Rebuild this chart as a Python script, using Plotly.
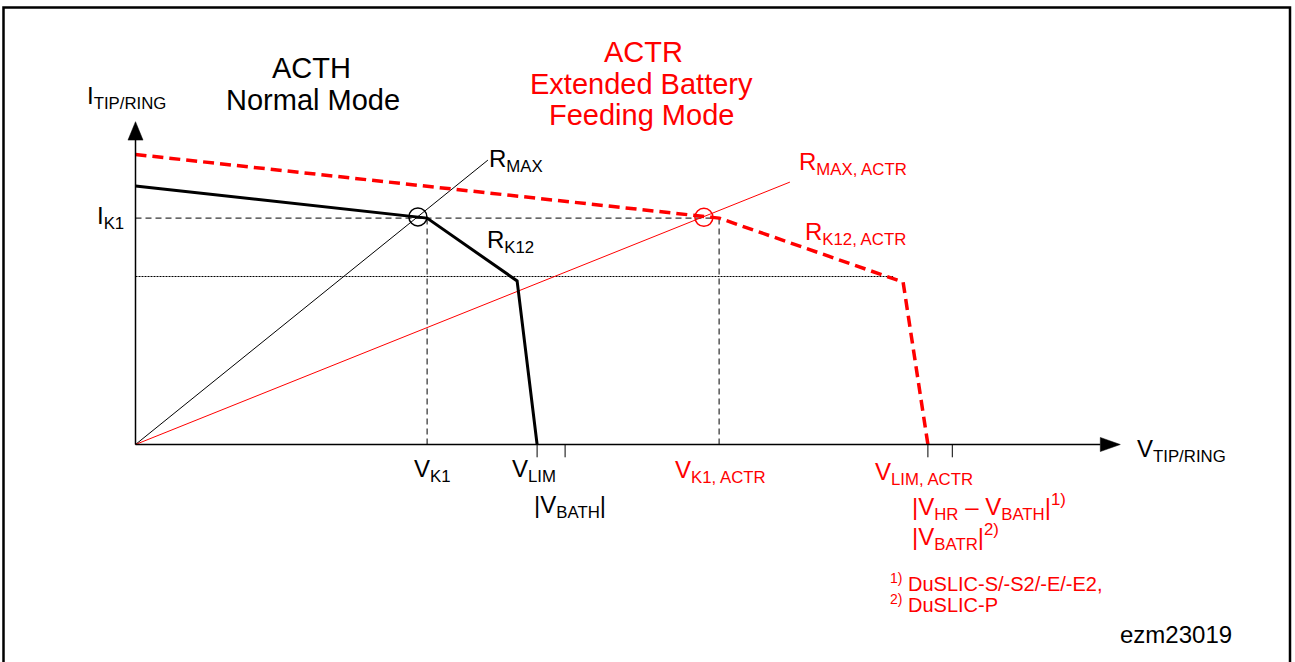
import plotly.graph_objects as go

# ---- schematic values (V in volts, I in mA) ----
I_K1 = 28.3            # knee current
I_K2 = 21.0            # dotted reference current
V_K1 = 36.45
V_LIM = 50.2
V_BATH = 53.7
V_K1_ACTR = 72.95
V_LIM_ACTR = 99.05
V_HR_BATH = 102.1
V_AXIS_END = 120.6
I_AXIS_END = 38.05

acth_v = [0, V_K1, 47.7, V_LIM]          # ACTH normal mode characteristic
acth_i = [32.3, I_K1, 20.45, 0]
actr_v = [0, V_K1_ACTR, 95.95, V_LIM_ACTR]  # ACTR extended battery characteristic
actr_i = [36.25, I_K1, 20.3, 0]
rmax_v = [0, 44.05]
rmax_i = [0, 35.55]
rmax_actr_v = [0, 81.8]
rmax_actr_i = [0, 32.8]
knee_v = [35.3]
knee_i = [28.45]
knee_actr_v = [71.05]
knee_actr_i = [28.4]
dotted_end_v = 94.7
tick_v = [V_LIM, V_BATH, V_LIM_ACTR, V_HR_BATH]

RED = "#ff0000"
BLACK = "#000000"
FONT = "Liberation Sans, Arial, sans-serif"

fig = go.Figure()

def line(xs, ys, color, width, dash="solid"):
    fig.add_trace(go.Scatter(x=xs, y=ys, mode="lines", hoverinfo="skip",
                             line=dict(color=color, width=width, dash=dash)))

# guide lines
line([0, V_K1_ACTR], [I_K1, I_K1], BLACK, 1, "6px,4px")
line([V_K1, V_K1], [0, I_K1], BLACK, 1, "6px,4px")
line([V_K1_ACTR, V_K1_ACTR], [0, I_K1], BLACK, 1, "6px,4px")
line([0, dotted_end_v], [I_K2, I_K2], BLACK, 1, "2px,1px")
# resistance lines
line(rmax_v, rmax_i, BLACK, 1)
line(rmax_actr_v, rmax_actr_i, RED, 1)
# characteristics
line(acth_v, acth_i, BLACK, 3)
line(actr_v, actr_i, RED, 3.5, "11px,6px")
# axes
line([0, V_AXIS_END], [0, 0], BLACK, 1.5)
line([0, 0], [0, I_AXIS_END], BLACK, 1.5)
tx, ty = [], []
for v in tick_v:
    tx += [v, v, None]
    ty += [0, -1.6, None]
line(tx, ty, BLACK, 1)
# arrow heads
fig.add_trace(go.Scatter(x=[V_AXIS_END, V_AXIS_END + 2.5, V_AXIS_END, V_AXIS_END],
                         y=[0.88, 0, -0.88, 0.88], mode="lines", fill="toself",
                         fillcolor=BLACK, line=dict(color=BLACK, width=0.5), hoverinfo="skip"))
fig.add_trace(go.Scatter(x=[-0.94, 0, 0.94, -0.94],
                         y=[I_AXIS_END, I_AXIS_END + 2.3, I_AXIS_END, I_AXIS_END], mode="lines",
                         fill="toself", fillcolor=BLACK, line=dict(color=BLACK, width=0.5),
                         hoverinfo="skip"))
# knee circles
fig.add_trace(go.Scatter(x=knee_v, y=knee_i, mode="markers", hoverinfo="skip",
                         marker=dict(symbol="circle-open", size=18, color=BLACK,
                                     line=dict(width=1.5, color=BLACK))))
fig.add_trace(go.Scatter(x=knee_actr_v, y=knee_actr_i, mode="markers", hoverinfo="skip",
                         marker=dict(symbol="circle-open", size=18, color=RED,
                                     line=dict(width=1.5, color=RED))))

def label(text, x, y, color=BLACK, size=24, xanchor="left"):
    fig.add_annotation(x=x, y=y, text=text, showarrow=False, xanchor=xanchor,
                       yanchor="middle", font=dict(family=FONT, size=size, color=color))

label("ACTH", 22.06, 47.06, size=29, xanchor="center")
label("Normal Mode", 22.19, 43.06, size=29, xanchor="center")
label("ACTR", 63.44, 49.12, RED, 29, "center")
label("Extended Battery", 63.31, 45.06, RED, 29, "center")
label("Feeding Mode", 63.31, 41.19, RED, 29, "center")

label("I<sub>TIP/RING</sub>", -6.3, 43.4)
label("I<sub>K1</sub>", -5.1, 28.4)
label("R<sub>MAX</sub>", 43.9, 35.55)
label("R<sub>K12</sub>", 43.7, 25.35)
label("R<sub>MAX, ACTR</sub>", 82.7, 35.1, RED)
label("R<sub>K12, ACTR</sub>", 83.4, 26.4, RED)
label("V<sub>K1</sub>", 34.5, -3.3)
label("V<sub>LIM</sub>", 46.8, -3.3)
label("|V<sub>BATH</sub>|", 49.5, -7.8)
label("V<sub>K1, ACTR</sub>", 67.15, -3.4, RED)
label("V<sub>LIM, ACTR</sub>", 92.15, -3.6, RED)
label("|V<sub>HR</sub> – V<sub>BATH</sub>|<sup>1)</sup>", 96.8, -7.8, RED)
label("|V<sub>BATR</sub>|<sup>2)</sup>", 96.8, -11.5, RED)
label("<sup>1)</sup> DuSLIC-S/-S2/-E/-E2,", 94.1, -17.3, RED, 20)
label("<sup>2)</sup> DuSLIC-P", 94.1, -19.85, RED, 20)
label("V<sub>TIP/RING</sub>", 124.9, -0.7)

fig.add_annotation(x=1118 / 1295, y=1 - 634 / 662, xref="paper", yref="paper",
                   text="ezm23019", showarrow=False, xanchor="left", yanchor="middle",
                   font=dict(family=FONT, size=24, color=BLACK))

# frame
fig.add_shape(type="rect", xref="paper", yref="paper", x0=3.5 / 1295, x1=1290 / 1295,
              y0=-0.05, y1=1 - 7.5 / 662, line=dict(color=BLACK, width=2.5))

fig.update_layout(
    width=1295, height=662, margin=dict(l=0, r=0, t=0, b=0, pad=0),
    paper_bgcolor="white", plot_bgcolor="white", showlegend=False,
    xaxis=dict(range=[-135.5 / 8, (1295 - 135.5) / 8], visible=False, fixedrange=True),
    yaxis=dict(range=[-(662 - 444.5) / 8, 444.5 / 8], visible=False, fixedrange=True),
)

fig.write_html("out.html", config={"displayModeBar": False},
               post_script="document.body.style.margin='0';document.body.style.overflow='hidden';")
